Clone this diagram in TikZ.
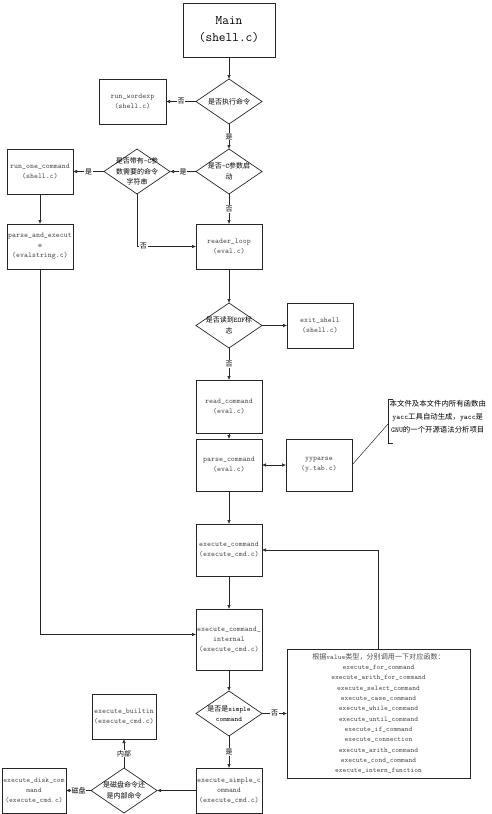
\documentclass[tikz,border=0pt]{standalone}
\usepackage{fontspec}
\newfontfamily\cjk{Noto Sans CJK SC}
\newcommand\zh[1]{{\cjk #1}}
\usetikzlibrary{shapes.geometric, arrows.meta, positioning, calc}

\begin{document}
\begin{tikzpicture}[
    font=\ttfamily,
    >={Latex[length=4pt, width=3.6pt]},
    mainbox/.style ={rectangle, draw=black!85, line width=1pt, outer sep=0pt,
                     minimum width=92pt, minimum height=54pt, align=center,
                     font=\ttfamily\fontsize{13}{17}\selectfont},
    func/.style    ={rectangle, draw=black!85, line width=0.8pt, inner sep=1pt, outer sep=0pt,
                     minimum width=66pt, minimum height=45pt, align=center,
                     text=black!70, font=\ttfamily\fontsize{7.5}{10}\selectfont},
    cond/.style    ={diamond, draw=black!85, line width=0.7pt, inner sep=0pt, outer sep=0pt,
                     minimum width=66pt, minimum height=45pt},
    condtxt/.style ={align=center, inner sep=0pt,
                     font=\ttfamily\fontsize{7}{10.5}\selectfont},
    lbl/.style     ={fill=white, inner sep=0.6pt, font=\cjk\fontsize{7}{8}\selectfont},
    flow/.style    ={->, draw=black!85, line width=0.6pt},
    note/.style    ={align=center, inner sep=1.5pt,
                     font=\ttfamily\fontsize{7.4}{13}\selectfont},
    biglist/.style ={rectangle, draw=black!85, line width=0.8pt, outer sep=0pt,
                     minimum width=183pt, minimum height=129pt, align=center,
                     text=black!70, font=\ttfamily\fontsize{7.1}{10.3}\selectfont},
]
\useasboundingbox (0,0) rectangle (492pt,-814pt);

% ---- Startup ----
\node[mainbox] (main) at (229pt,-30pt) {Main\\(shell.c)};
\node[cond, below=22pt of main, label={[condtxt]center:{\zh{是否执行命令}}}] (q1) {};
\node[func, left=30pt of q1, minimum width=67pt] (wordexp) {run\_wordexp\\(shell.c)};
\node[cond, below=25pt of q1, label={[condtxt]center:{\zh{是否}-C\zh{参数启}\\\zh{动}}}] (q2) {};
\node[cond, left=26pt of q2,
      label={[condtxt]center:{\zh{是否带有}-C\zh{参}\\\zh{数需要的命令}\\\zh{字符串}}}] (q3) {};
\node[func, left=31pt of q3] (runone) {run\_one\_command\\(shell.c)};
\node[func, below=30pt of runone] (parseexec) {parse\_and\_execut\\e\\(evalstring.c)};

% ---- Read loop ----
\node[func, below=30pt of q2] (readerloop) {reader\_loop\\(eval.c)};
\node[cond, below=34pt of readerloop, label={[condtxt]center:{\zh{是否读到}EOF\zh{标}\\\zh{志}}}] (q4) {};
\node[func, right=25pt of q4] (exitsh) {exit\_shell\\(shell.c)};
\node[func, below=32pt of q4, minimum height=53pt] (readcmd) {read\_command\\(eval.c)};
\node[func, below=6pt of readcmd, minimum height=52pt] (parsecmd) {parse\_command\\(eval.c)};
\node[func, right=24pt of parsecmd, minimum height=52pt] (yyparse) {yyparse\\(y.tab.c)};
\node[note, anchor=north west] (note) at ($(yyparse.east)+(36pt,66pt)$)
  {\zh{本文件及本文件内所有函数由}\\yacc\zh{工具自动生成，}yacc\zh{是}\\GNU\zh{的一个开源语法分析项目}};
\coordinate (notemid) at ($(note.north west)+(0,-25pt)$);

% ---- Execution ----
\node[func, below=33pt of parsecmd, minimum height=52pt] (execcmd) {execute\_command\\(execute\_cmd.c)};
\node[func, below=33pt of execcmd, minimum height=61pt] (execint) {execute\_command\_\\internal\\(execute\_cmd.c)};
\node[cond, below=21pt of execint, label={[condtxt]center:{\zh{是否是}simple\\command}}] (q5) {};
\node[biglist, right=25pt of q5] (biglist)
  {\zh{根据}value\zh{类型，分别调用一下对应函数：}\\
   execute\_for\_command\\execute\_arith\_for\_command\\execute\_select\_command\\
   execute\_case\_command\\execute\_while\_command\\execute\_until\_command\\
   execute\_if\_command\\execute\_connection\\execute\_arith\_command\\
   execute\_cond\_command\\execute\_intern\_function};
\node[func, below=32pt of q5] (execsimple) {execute\_simple\_c\\ommand\\(execute\_cmd.c)};
\node[cond, left=39pt of execsimple, label={[condtxt]center:{\zh{是磁盘命令还}\\\zh{是内部命令}}}] (q6) {};
\node[func, above=29pt of q6, minimum width=64pt] (builtin) {execute\_builtin\\(execute\_cmd.c)};
\node[func, left=25pt of q6, minimum width=64pt, inner sep=0.5pt,
      font=\ttfamily\fontsize{7.2}{10}\selectfont] (disk) {execute\_disk\_com\\mand\\(execute\_cmd.c)};

% ---- Arrows ----
\draw[flow] (main) -- (q1);
\draw[flow] (q1.west) -- node[lbl] {否} (wordexp);
\draw[flow] (q1.south) -- node[lbl] {是} (q2.north);
\draw[flow] (q2.west) -- node[lbl] {是} (q3.east);
\draw[flow] (q3.west) -- node[lbl] {是} (runone);
\draw[flow] (q2.south) -- node[lbl] {否} (readerloop);
\draw[flow] (q3.south) |- node[lbl, pos=0.555] {否} (readerloop.west);
\draw[flow] (runone) -- (parseexec);
\draw[flow] (parseexec.south) |- ([yshift=5pt]execint.west);

\draw[flow] (readerloop) -- (q4.north);
\draw[flow] (q4.east) -- (exitsh);
\draw[flow] (q4.south) -- node[lbl] {否} (readcmd);
\draw[flow] (readcmd) -- (parsecmd);
\draw[flow, <->] (parsecmd) -- (yyparse);
\draw[black!85, line width=0.5pt] (yyparse.east) -- (notemid);
\draw[black!85, line width=0.6pt] ([xshift=5pt]note.north west) -- (note.north west) -- ++(0,-44pt) -- ++(5pt,0);

\draw[flow] (parsecmd) -- (execcmd);
\draw[flow] (execcmd) -- (execint);
\draw[flow] (biglist.north) |- (execcmd.east);
\draw[flow] (execint) -- (q5.north);
\draw[flow] (q5.east) -- node[lbl] {否} (biglist);
\draw[flow] (q5.south) -- node[lbl] {是} (execsimple);
\draw[flow] (execsimple) -- (q6.east);
\draw[flow] (q6.north) -- node[lbl] {内部} (builtin);
\draw[flow] (q6.west) -- node[lbl] {磁盘} (disk);

\end{tikzpicture}
\end{document}
